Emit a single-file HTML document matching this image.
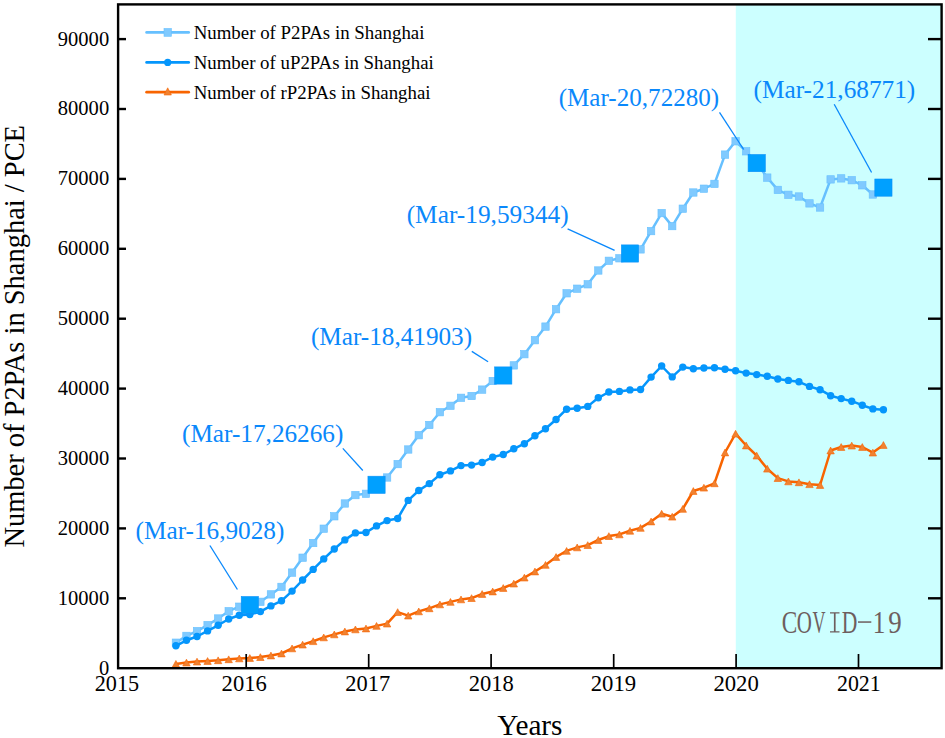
<!DOCTYPE html>
<html><head><meta charset="utf-8"><style>
html,body{margin:0;padding:0;background:#fff;}
body{width:945px;height:738px;overflow:hidden;}
svg{display:block;}
text{font-family:"Liberation Serif",serif;}
</style></head><body>
<svg width="945" height="738" viewBox="0 0 945 738">
<rect x="735.8" y="4.4" width="205.8" height="663.8" fill="#ccffff"/>
<polyline points="175.9,642.7 186.46,635.9 197.02,631.1 207.58,625.1 218.14,618.5 228.7,611.2 239.26,606.7 249.82,605.1 260.38,601.8 270.94,594.4 281.5,586.9 292.06,572.6 302.62,557.7 313.18,543 323.74,528.7 334.3,516.3 344.86,503.5 355.42,495.1 365.98,493.8 376.54,484.8 387.1,477.5 397.66,464.1 408.22,449.5 418.78,435.2 429.34,425 439.9,412.2 450.46,405.8 461.02,397.8 471.58,396 482.14,389.6 492.7,381 503.26,375.5 513.82,365.4 524.38,354.2 534.94,340.2 545.5,326.6 556.06,309.2 566.62,293.3 577.18,288.7 587.74,284.3 598.3,270.5 608.86,260.8 619.42,258.3 629.98,253.5 640.54,249.4 651.1,231.1 661.66,213.1 672.22,226.1 682.78,208.7 693.34,192.5 703.9,188.7 714.46,183.9 725.02,154.6 735.58,141.3 746.14,151.3 756.7,163.1 767.26,177.6 777.82,189.9 788.38,194.8 798.94,196.5 809.5,203.4 820.06,207.5 830.62,179.4 841.18,178.4 851.74,180.2 862.3,185.3 872.86,194.5 883.42,187.6" fill="none" stroke="#66c0ff" stroke-width="2.5" stroke-linejoin="round"/>
<g fill="#80caff" stroke="#66c0ff" stroke-width="0.6"><rect x="172.2" y="639" width="7.4" height="7.4"/><rect x="182.76" y="632.2" width="7.4" height="7.4"/><rect x="193.32" y="627.4" width="7.4" height="7.4"/><rect x="203.88" y="621.4" width="7.4" height="7.4"/><rect x="214.44" y="614.8" width="7.4" height="7.4"/><rect x="225" y="607.5" width="7.4" height="7.4"/><rect x="235.56" y="603" width="7.4" height="7.4"/><rect x="246.12" y="601.4" width="7.4" height="7.4"/><rect x="256.68" y="598.1" width="7.4" height="7.4"/><rect x="267.24" y="590.7" width="7.4" height="7.4"/><rect x="277.8" y="583.2" width="7.4" height="7.4"/><rect x="288.36" y="568.9" width="7.4" height="7.4"/><rect x="298.92" y="554" width="7.4" height="7.4"/><rect x="309.48" y="539.3" width="7.4" height="7.4"/><rect x="320.04" y="525" width="7.4" height="7.4"/><rect x="330.6" y="512.6" width="7.4" height="7.4"/><rect x="341.16" y="499.8" width="7.4" height="7.4"/><rect x="351.72" y="491.4" width="7.4" height="7.4"/><rect x="362.28" y="490.1" width="7.4" height="7.4"/><rect x="372.84" y="481.1" width="7.4" height="7.4"/><rect x="383.4" y="473.8" width="7.4" height="7.4"/><rect x="393.96" y="460.4" width="7.4" height="7.4"/><rect x="404.52" y="445.8" width="7.4" height="7.4"/><rect x="415.08" y="431.5" width="7.4" height="7.4"/><rect x="425.64" y="421.3" width="7.4" height="7.4"/><rect x="436.2" y="408.5" width="7.4" height="7.4"/><rect x="446.76" y="402.1" width="7.4" height="7.4"/><rect x="457.32" y="394.1" width="7.4" height="7.4"/><rect x="467.88" y="392.3" width="7.4" height="7.4"/><rect x="478.44" y="385.9" width="7.4" height="7.4"/><rect x="489" y="377.3" width="7.4" height="7.4"/><rect x="499.56" y="371.8" width="7.4" height="7.4"/><rect x="510.12" y="361.7" width="7.4" height="7.4"/><rect x="520.68" y="350.5" width="7.4" height="7.4"/><rect x="531.24" y="336.5" width="7.4" height="7.4"/><rect x="541.8" y="322.9" width="7.4" height="7.4"/><rect x="552.36" y="305.5" width="7.4" height="7.4"/><rect x="562.92" y="289.6" width="7.4" height="7.4"/><rect x="573.48" y="285" width="7.4" height="7.4"/><rect x="584.04" y="280.6" width="7.4" height="7.4"/><rect x="594.6" y="266.8" width="7.4" height="7.4"/><rect x="605.16" y="257.1" width="7.4" height="7.4"/><rect x="615.72" y="254.6" width="7.4" height="7.4"/><rect x="626.28" y="249.8" width="7.4" height="7.4"/><rect x="636.84" y="245.7" width="7.4" height="7.4"/><rect x="647.4" y="227.4" width="7.4" height="7.4"/><rect x="657.96" y="209.4" width="7.4" height="7.4"/><rect x="668.52" y="222.4" width="7.4" height="7.4"/><rect x="679.08" y="205" width="7.4" height="7.4"/><rect x="689.64" y="188.8" width="7.4" height="7.4"/><rect x="700.2" y="185" width="7.4" height="7.4"/><rect x="710.76" y="180.2" width="7.4" height="7.4"/><rect x="721.32" y="150.9" width="7.4" height="7.4"/><rect x="731.88" y="137.6" width="7.4" height="7.4"/><rect x="742.44" y="147.6" width="7.4" height="7.4"/><rect x="753" y="159.4" width="7.4" height="7.4"/><rect x="763.56" y="173.9" width="7.4" height="7.4"/><rect x="774.12" y="186.2" width="7.4" height="7.4"/><rect x="784.68" y="191.1" width="7.4" height="7.4"/><rect x="795.24" y="192.8" width="7.4" height="7.4"/><rect x="805.8" y="199.7" width="7.4" height="7.4"/><rect x="816.36" y="203.8" width="7.4" height="7.4"/><rect x="826.92" y="175.7" width="7.4" height="7.4"/><rect x="837.48" y="174.7" width="7.4" height="7.4"/><rect x="848.04" y="176.5" width="7.4" height="7.4"/><rect x="858.6" y="181.6" width="7.4" height="7.4"/><rect x="869.16" y="190.8" width="7.4" height="7.4"/><rect x="879.72" y="183.9" width="7.4" height="7.4"/></g>
<polyline points="175.9,645.8 186.46,640.3 197.02,636.5 207.58,630.9 218.14,625.3 228.7,619 239.26,615.2 249.82,614.5 260.38,611.6 270.94,605.9 281.5,600.8 292.06,591.1 302.62,580 313.18,569.4 323.74,558.9 334.3,549 344.86,539.9 355.42,532.9 365.98,532.5 376.54,525.9 387.1,520.6 397.66,518.5 408.22,500.4 418.78,490.5 429.34,483.6 439.9,474.7 450.46,470.9 461.02,465.6 471.58,465.1 482.14,462.5 492.7,457.1 503.26,454.5 513.82,448.8 524.38,443.7 534.94,435.7 545.5,428.8 556.06,419.5 566.62,409.2 577.18,408.3 587.74,406.4 598.3,397.8 608.86,392 619.42,391.4 629.98,389.9 640.54,389.5 651.1,377.1 661.66,366 672.22,376.9 682.78,367.1 693.34,368.7 703.9,368 714.46,367.8 725.02,369.3 735.58,370.8 746.14,373.1 756.7,374.6 767.26,376.3 777.82,379 788.38,380.4 798.94,381.8 809.5,386.4 820.06,389.7 830.62,395.7 841.18,398.6 851.74,401.2 862.3,405.2 872.86,408.9 883.42,409.8" fill="none" stroke="#0596fc" stroke-width="2.5" stroke-linejoin="round"/>
<g fill="#0596fc"><circle cx="175.9" cy="645.8" r="3.7"/><circle cx="186.46" cy="640.3" r="3.7"/><circle cx="197.02" cy="636.5" r="3.7"/><circle cx="207.58" cy="630.9" r="3.7"/><circle cx="218.14" cy="625.3" r="3.7"/><circle cx="228.7" cy="619" r="3.7"/><circle cx="239.26" cy="615.2" r="3.7"/><circle cx="249.82" cy="614.5" r="3.7"/><circle cx="260.38" cy="611.6" r="3.7"/><circle cx="270.94" cy="605.9" r="3.7"/><circle cx="281.5" cy="600.8" r="3.7"/><circle cx="292.06" cy="591.1" r="3.7"/><circle cx="302.62" cy="580" r="3.7"/><circle cx="313.18" cy="569.4" r="3.7"/><circle cx="323.74" cy="558.9" r="3.7"/><circle cx="334.3" cy="549" r="3.7"/><circle cx="344.86" cy="539.9" r="3.7"/><circle cx="355.42" cy="532.9" r="3.7"/><circle cx="365.98" cy="532.5" r="3.7"/><circle cx="376.54" cy="525.9" r="3.7"/><circle cx="387.1" cy="520.6" r="3.7"/><circle cx="397.66" cy="518.5" r="3.7"/><circle cx="408.22" cy="500.4" r="3.7"/><circle cx="418.78" cy="490.5" r="3.7"/><circle cx="429.34" cy="483.6" r="3.7"/><circle cx="439.9" cy="474.7" r="3.7"/><circle cx="450.46" cy="470.9" r="3.7"/><circle cx="461.02" cy="465.6" r="3.7"/><circle cx="471.58" cy="465.1" r="3.7"/><circle cx="482.14" cy="462.5" r="3.7"/><circle cx="492.7" cy="457.1" r="3.7"/><circle cx="503.26" cy="454.5" r="3.7"/><circle cx="513.82" cy="448.8" r="3.7"/><circle cx="524.38" cy="443.7" r="3.7"/><circle cx="534.94" cy="435.7" r="3.7"/><circle cx="545.5" cy="428.8" r="3.7"/><circle cx="556.06" cy="419.5" r="3.7"/><circle cx="566.62" cy="409.2" r="3.7"/><circle cx="577.18" cy="408.3" r="3.7"/><circle cx="587.74" cy="406.4" r="3.7"/><circle cx="598.3" cy="397.8" r="3.7"/><circle cx="608.86" cy="392" r="3.7"/><circle cx="619.42" cy="391.4" r="3.7"/><circle cx="629.98" cy="389.9" r="3.7"/><circle cx="640.54" cy="389.5" r="3.7"/><circle cx="651.1" cy="377.1" r="3.7"/><circle cx="661.66" cy="366" r="3.7"/><circle cx="672.22" cy="376.9" r="3.7"/><circle cx="682.78" cy="367.1" r="3.7"/><circle cx="693.34" cy="368.7" r="3.7"/><circle cx="703.9" cy="368" r="3.7"/><circle cx="714.46" cy="367.8" r="3.7"/><circle cx="725.02" cy="369.3" r="3.7"/><circle cx="735.58" cy="370.8" r="3.7"/><circle cx="746.14" cy="373.1" r="3.7"/><circle cx="756.7" cy="374.6" r="3.7"/><circle cx="767.26" cy="376.3" r="3.7"/><circle cx="777.82" cy="379" r="3.7"/><circle cx="788.38" cy="380.4" r="3.7"/><circle cx="798.94" cy="381.8" r="3.7"/><circle cx="809.5" cy="386.4" r="3.7"/><circle cx="820.06" cy="389.7" r="3.7"/><circle cx="830.62" cy="395.7" r="3.7"/><circle cx="841.18" cy="398.6" r="3.7"/><circle cx="851.74" cy="401.2" r="3.7"/><circle cx="862.3" cy="405.2" r="3.7"/><circle cx="872.86" cy="408.9" r="3.7"/><circle cx="883.42" cy="409.8" r="3.7"/></g>
<polyline points="175.9,663.9 186.46,662.6 197.02,661.6 207.58,661 218.14,660.3 228.7,659.3 239.26,658.4 249.82,658 260.38,657.1 270.94,655.5 281.5,653.5 292.06,648.4 302.62,644.6 313.18,641.2 323.74,637.4 334.3,634.4 344.86,631.5 355.42,629.4 365.98,628.5 376.54,625.9 387.1,623.6 397.66,612.1 408.22,615.6 418.78,611.4 429.34,608.3 439.9,604.4 450.46,601.9 461.02,599.4 471.58,598.1 482.14,594 492.7,591.5 503.26,588 513.82,583.6 524.38,577.6 534.94,571.5 545.5,564.9 556.06,557 566.62,550.9 577.18,547.4 587.74,545.1 598.3,540 608.86,536.1 619.42,534.4 629.98,530.8 640.54,527.9 651.1,521.5 661.66,513.7 672.22,516.7 682.78,508.9 693.34,491 703.9,487.7 714.46,483.3 725.02,452.5 735.58,433.7 746.14,445.5 756.7,455.6 767.26,468.7 777.82,478.1 788.38,481.4 798.94,482.3 809.5,484.2 820.06,485 830.62,450.5 841.18,447 851.74,445.6 862.3,447 872.86,452.6 883.42,445" fill="none" stroke="#f86400" stroke-width="2.5" stroke-linejoin="round"/>
<g fill="#f08232" stroke="#f86400" stroke-width="0.6"><path d="M175.9,660.5L179.6,667.3L172.2,667.3Z"/><path d="M186.46,659.2L190.16,666L182.76,666Z"/><path d="M197.02,658.2L200.72,665L193.32,665Z"/><path d="M207.58,657.6L211.28,664.4L203.88,664.4Z"/><path d="M218.14,656.9L221.84,663.7L214.44,663.7Z"/><path d="M228.7,655.9L232.4,662.7L225,662.7Z"/><path d="M239.26,655L242.96,661.8L235.56,661.8Z"/><path d="M249.82,654.6L253.52,661.4L246.12,661.4Z"/><path d="M260.38,653.7L264.08,660.5L256.68,660.5Z"/><path d="M270.94,652.1L274.64,658.9L267.24,658.9Z"/><path d="M281.5,650.1L285.2,656.9L277.8,656.9Z"/><path d="M292.06,645L295.76,651.8L288.36,651.8Z"/><path d="M302.62,641.2L306.32,648L298.92,648Z"/><path d="M313.18,637.8L316.88,644.6L309.48,644.6Z"/><path d="M323.74,634L327.44,640.8L320.04,640.8Z"/><path d="M334.3,631L338,637.8L330.6,637.8Z"/><path d="M344.86,628.1L348.56,634.9L341.16,634.9Z"/><path d="M355.42,626L359.12,632.8L351.72,632.8Z"/><path d="M365.98,625.1L369.68,631.9L362.28,631.9Z"/><path d="M376.54,622.5L380.24,629.3L372.84,629.3Z"/><path d="M387.1,620.2L390.8,627L383.4,627Z"/><path d="M397.66,608.7L401.36,615.5L393.96,615.5Z"/><path d="M408.22,612.2L411.92,619L404.52,619Z"/><path d="M418.78,608L422.48,614.8L415.08,614.8Z"/><path d="M429.34,604.9L433.04,611.7L425.64,611.7Z"/><path d="M439.9,601L443.6,607.8L436.2,607.8Z"/><path d="M450.46,598.5L454.16,605.3L446.76,605.3Z"/><path d="M461.02,596L464.72,602.8L457.32,602.8Z"/><path d="M471.58,594.7L475.28,601.5L467.88,601.5Z"/><path d="M482.14,590.6L485.84,597.4L478.44,597.4Z"/><path d="M492.7,588.1L496.4,594.9L489,594.9Z"/><path d="M503.26,584.6L506.96,591.4L499.56,591.4Z"/><path d="M513.82,580.2L517.52,587L510.12,587Z"/><path d="M524.38,574.2L528.08,581L520.68,581Z"/><path d="M534.94,568.1L538.64,574.9L531.24,574.9Z"/><path d="M545.5,561.5L549.2,568.3L541.8,568.3Z"/><path d="M556.06,553.6L559.76,560.4L552.36,560.4Z"/><path d="M566.62,547.5L570.32,554.3L562.92,554.3Z"/><path d="M577.18,544L580.88,550.8L573.48,550.8Z"/><path d="M587.74,541.7L591.44,548.5L584.04,548.5Z"/><path d="M598.3,536.6L602,543.4L594.6,543.4Z"/><path d="M608.86,532.7L612.56,539.5L605.16,539.5Z"/><path d="M619.42,531L623.12,537.8L615.72,537.8Z"/><path d="M629.98,527.4L633.68,534.2L626.28,534.2Z"/><path d="M640.54,524.5L644.24,531.3L636.84,531.3Z"/><path d="M651.1,518.1L654.8,524.9L647.4,524.9Z"/><path d="M661.66,510.3L665.36,517.1L657.96,517.1Z"/><path d="M672.22,513.3L675.92,520.1L668.52,520.1Z"/><path d="M682.78,505.5L686.48,512.3L679.08,512.3Z"/><path d="M693.34,487.6L697.04,494.4L689.64,494.4Z"/><path d="M703.9,484.3L707.6,491.1L700.2,491.1Z"/><path d="M714.46,479.9L718.16,486.7L710.76,486.7Z"/><path d="M725.02,449.1L728.72,455.9L721.32,455.9Z"/><path d="M735.58,430.3L739.28,437.1L731.88,437.1Z"/><path d="M746.14,442.1L749.84,448.9L742.44,448.9Z"/><path d="M756.7,452.2L760.4,459L753,459Z"/><path d="M767.26,465.3L770.96,472.1L763.56,472.1Z"/><path d="M777.82,474.7L781.52,481.5L774.12,481.5Z"/><path d="M788.38,478L792.08,484.8L784.68,484.8Z"/><path d="M798.94,478.9L802.64,485.7L795.24,485.7Z"/><path d="M809.5,480.8L813.2,487.6L805.8,487.6Z"/><path d="M820.06,481.6L823.76,488.4L816.36,488.4Z"/><path d="M830.62,447.1L834.32,453.9L826.92,453.9Z"/><path d="M841.18,443.6L844.88,450.4L837.48,450.4Z"/><path d="M851.74,442.2L855.44,449L848.04,449Z"/><path d="M862.3,443.6L866,450.4L858.6,450.4Z"/><path d="M872.86,449.2L876.56,456L869.16,456Z"/><path d="M883.42,441.6L887.12,448.4L879.72,448.4Z"/></g>
<rect x="241.22" y="596.5" width="17.2" height="17.2" fill="#00a0ff" stroke="#0a90f8" stroke-width="0.6"/>
<rect x="367.94" y="476.2" width="17.2" height="17.2" fill="#00a0ff" stroke="#0a90f8" stroke-width="0.6"/>
<rect x="494.66" y="366.9" width="17.2" height="17.2" fill="#00a0ff" stroke="#0a90f8" stroke-width="0.6"/>
<rect x="621.38" y="244.9" width="17.2" height="17.2" fill="#00a0ff" stroke="#0a90f8" stroke-width="0.6"/>
<rect x="748.1" y="154.5" width="17.2" height="17.2" fill="#00a0ff" stroke="#0a90f8" stroke-width="0.6"/>
<rect x="874.82" y="179" width="17.2" height="17.2" fill="#00a0ff" stroke="#0a90f8" stroke-width="0.6"/>
<line x1="209.9" y1="545.5" x2="237.4" y2="589.5" stroke="#0a88fb" stroke-width="1.3"/>
<line x1="342.8" y1="448.4" x2="362.8" y2="470.5" stroke="#0a88fb" stroke-width="1.3"/>
<line x1="471.8" y1="351.4" x2="488.1" y2="361.7" stroke="#0a88fb" stroke-width="1.3"/>
<line x1="567.6" y1="228.9" x2="614.6" y2="250.4" stroke="#0a88fb" stroke-width="1.3"/>
<line x1="719.5" y1="112.3" x2="743.7" y2="149.5" stroke="#0a88fb" stroke-width="1.3"/>
<line x1="834.2" y1="104.2" x2="871.6" y2="172.5" stroke="#0a88fb" stroke-width="1.3"/>
<text x="135.59" y="539.3" font-size="25.8" textLength="148.81" lengthAdjust="spacingAndGlyphs" fill="#0a88fb" style='font-family:"Liberation Serif",serif'>(Mar-16,9028)</text>
<text x="181.99" y="442.4" font-size="25.8" textLength="161.41" lengthAdjust="spacingAndGlyphs" fill="#0a88fb" style='font-family:"Liberation Serif",serif'>(Mar-17,26266)</text>
<text x="310.9" y="344.9" font-size="25.8" textLength="161.21" lengthAdjust="spacingAndGlyphs" fill="#0a88fb" style='font-family:"Liberation Serif",serif'>(Mar-18,41903)</text>
<text x="406.69" y="222.9" font-size="25.8" textLength="162.02" lengthAdjust="spacingAndGlyphs" fill="#0a88fb" style='font-family:"Liberation Serif",serif'>(Mar-19,59344)</text>
<text x="558.7" y="105.8" font-size="25.8" textLength="160.5" lengthAdjust="spacingAndGlyphs" fill="#0a88fb" style='font-family:"Liberation Serif",serif'>(Mar-20,72280)</text>
<text x="753.59" y="98" font-size="25.8" textLength="161.72" lengthAdjust="spacingAndGlyphs" fill="#0a88fb" style='font-family:"Liberation Serif",serif'>(Mar-21,68771)</text>
<text x="781.84" y="632.6" font-size="31.8" textLength="15.54" lengthAdjust="spacingAndGlyphs" fill="#6e5e5e" style='font-family:"Liberation Serif",serif'>C</text>
<text x="796.74" y="632.6" font-size="31.8" textLength="15.12" lengthAdjust="spacingAndGlyphs" fill="#6e5e5e" style='font-family:"Liberation Serif",serif'>O</text>
<text x="812.6" y="632.6" font-size="31.8" textLength="13" lengthAdjust="spacingAndGlyphs" fill="#6e5e5e" style='font-family:"Liberation Serif",serif'>V</text>
<text x="841.78" y="632.6" font-size="31.8" textLength="15.59" lengthAdjust="spacingAndGlyphs" fill="#6e5e5e" style='font-family:"Liberation Serif",serif'>D</text>
<text x="872.78" y="632.6" font-size="30.8" textLength="12.64" lengthAdjust="spacingAndGlyphs" fill="#6e5e5e" style='font-family:"Liberation Serif",serif'>1</text>
<text x="888.23" y="632.6" font-size="30.8" textLength="13.47" lengthAdjust="spacingAndGlyphs" fill="#6e5e5e" style='font-family:"Liberation Serif",serif'>9</text>
<rect x="858" y="621.3" width="13.3" height="1.5" fill="#6e5e5e"/>
<path d="M830,612.2h9.5v1.3h-3.9v17.8h3.9v1.3h-9.5v-1.3h3.9v-17.8h-3.9z" fill="#6e5e5e"/>
<rect x="118.1" y="4.4" width="823.5" height="663.8" fill="none" stroke="#000" stroke-width="2.4"/>
<line x1="118.1" y1="598.3" x2="126" y2="598.3" stroke="#000" stroke-width="2.4"/>
<line x1="928" y1="598.3" x2="941.6" y2="598.3" stroke="#000" stroke-width="2.4"/>
<line x1="118.1" y1="528.4" x2="126" y2="528.4" stroke="#000" stroke-width="2.4"/>
<line x1="928" y1="528.4" x2="941.6" y2="528.4" stroke="#000" stroke-width="2.4"/>
<line x1="118.1" y1="458.5" x2="126" y2="458.5" stroke="#000" stroke-width="2.4"/>
<line x1="928" y1="458.5" x2="941.6" y2="458.5" stroke="#000" stroke-width="2.4"/>
<line x1="118.1" y1="388.6" x2="126" y2="388.6" stroke="#000" stroke-width="2.4"/>
<line x1="928" y1="388.6" x2="941.6" y2="388.6" stroke="#000" stroke-width="2.4"/>
<line x1="118.1" y1="318.7" x2="126" y2="318.7" stroke="#000" stroke-width="2.4"/>
<line x1="928" y1="318.7" x2="941.6" y2="318.7" stroke="#000" stroke-width="2.4"/>
<line x1="118.1" y1="248.8" x2="126" y2="248.8" stroke="#000" stroke-width="2.4"/>
<line x1="928" y1="248.8" x2="941.6" y2="248.8" stroke="#000" stroke-width="2.4"/>
<line x1="118.1" y1="178.9" x2="126" y2="178.9" stroke="#000" stroke-width="2.4"/>
<line x1="928" y1="178.9" x2="941.6" y2="178.9" stroke="#000" stroke-width="2.4"/>
<line x1="118.1" y1="109" x2="126" y2="109" stroke="#000" stroke-width="2.4"/>
<line x1="928" y1="109" x2="941.6" y2="109" stroke="#000" stroke-width="2.4"/>
<line x1="118.1" y1="39.1" x2="126" y2="39.1" stroke="#000" stroke-width="2.4"/>
<line x1="928" y1="39.1" x2="941.6" y2="39.1" stroke="#000" stroke-width="2.4"/>
<line x1="246.2" y1="654" x2="246.2" y2="668.2" stroke="#000" stroke-width="1.7"/>
<line x1="368.7" y1="654" x2="368.7" y2="668.2" stroke="#000" stroke-width="1.7"/>
<line x1="491.1" y1="654" x2="491.1" y2="668.2" stroke="#000" stroke-width="1.7"/>
<line x1="613.7" y1="654" x2="613.7" y2="668.2" stroke="#000" stroke-width="1.7"/>
<line x1="736.1" y1="654" x2="736.1" y2="668.2" stroke="#000" stroke-width="1.7"/>
<line x1="858.5" y1="654" x2="858.5" y2="668.2" stroke="#000" stroke-width="1.7"/>
<text x="98.91" y="674.6" font-size="21.7" textLength="10.27" lengthAdjust="spacingAndGlyphs" fill="#000" style='font-family:"Liberation Serif",serif'>0</text>
<text x="57.81" y="604.7" font-size="21.7" textLength="51.37" lengthAdjust="spacingAndGlyphs" fill="#000" style='font-family:"Liberation Serif",serif'>10000</text>
<text x="57.81" y="534.8" font-size="21.7" textLength="51.37" lengthAdjust="spacingAndGlyphs" fill="#000" style='font-family:"Liberation Serif",serif'>20000</text>
<text x="57.81" y="464.9" font-size="21.7" textLength="51.37" lengthAdjust="spacingAndGlyphs" fill="#000" style='font-family:"Liberation Serif",serif'>30000</text>
<text x="57.81" y="395" font-size="21.7" textLength="51.37" lengthAdjust="spacingAndGlyphs" fill="#000" style='font-family:"Liberation Serif",serif'>40000</text>
<text x="57.81" y="325.1" font-size="21.7" textLength="51.37" lengthAdjust="spacingAndGlyphs" fill="#000" style='font-family:"Liberation Serif",serif'>50000</text>
<text x="57.81" y="255.2" font-size="21.7" textLength="51.37" lengthAdjust="spacingAndGlyphs" fill="#000" style='font-family:"Liberation Serif",serif'>60000</text>
<text x="57.81" y="185.3" font-size="21.7" textLength="51.37" lengthAdjust="spacingAndGlyphs" fill="#000" style='font-family:"Liberation Serif",serif'>70000</text>
<text x="57.81" y="115.4" font-size="21.7" textLength="51.37" lengthAdjust="spacingAndGlyphs" fill="#000" style='font-family:"Liberation Serif",serif'>80000</text>
<text x="57.81" y="45.5" font-size="21.7" textLength="51.37" lengthAdjust="spacingAndGlyphs" fill="#000" style='font-family:"Liberation Serif",serif'>90000</text>
<text x="94.72" y="691.3" font-size="22.5" textLength="44.44" lengthAdjust="spacingAndGlyphs" fill="#000" style='font-family:"Liberation Serif",serif'>2015</text>
<text x="221.61" y="691.3" font-size="22.5" textLength="45.17" lengthAdjust="spacingAndGlyphs" fill="#000" style='font-family:"Liberation Serif",serif'>2016</text>
<text x="345.31" y="691.3" font-size="22.5" textLength="44.83" lengthAdjust="spacingAndGlyphs" fill="#000" style='font-family:"Liberation Serif",serif'>2017</text>
<text x="468.71" y="691.3" font-size="22.5" textLength="45.15" lengthAdjust="spacingAndGlyphs" fill="#000" style='font-family:"Liberation Serif",serif'>2018</text>
<text x="590.7" y="691.3" font-size="22.5" textLength="45.43" lengthAdjust="spacingAndGlyphs" fill="#000" style='font-family:"Liberation Serif",serif'>2019</text>
<text x="713.4" y="691.3" font-size="22.5" textLength="45.46" lengthAdjust="spacingAndGlyphs" fill="#000" style='font-family:"Liberation Serif",serif'>2020</text>
<text x="836.94" y="691.3" font-size="22.5" textLength="43.78" lengthAdjust="spacingAndGlyphs" fill="#000" style='font-family:"Liberation Serif",serif'>2021</text>
<text x="497.19" y="735.2" font-size="29.2" textLength="65.33" lengthAdjust="spacingAndGlyphs" fill="#000" style='font-family:"Liberation Serif",serif'>Years</text>
<text x="-547.61" y="0" font-size="29.5" textLength="422.62" lengthAdjust="spacingAndGlyphs" fill="#000" style='font-family:"Liberation Serif",serif' transform="translate(23.8,0) rotate(-90)">Number of P2PAs in Shanghai / PCE</text>
<line x1="146.6" y1="32.4" x2="188.7" y2="32.4" stroke="#66c0ff" stroke-width="2.7" stroke-linecap="round"/>
<rect x="164" y="28.5" width="7.4" height="7.8" fill="#80caff" stroke="#66c0ff" stroke-width="0.6"/>
<text x="193.66" y="39" font-size="19.8" textLength="230.8" lengthAdjust="spacingAndGlyphs" fill="#000" style='font-family:"Liberation Serif",serif'>Number of P2PAs in Shanghai</text>
<line x1="146.6" y1="62.4" x2="188.7" y2="62.4" stroke="#0596fc" stroke-width="2.7" stroke-linecap="round"/>
<circle cx="167.7" cy="62.4" r="3.6" fill="#0596fc"/>
<text x="193.66" y="68.75" font-size="19.8" textLength="240.1" lengthAdjust="spacingAndGlyphs" fill="#000" style='font-family:"Liberation Serif",serif'>Number of uP2PAs in Shanghai</text>
<line x1="146.6" y1="92.2" x2="188.7" y2="92.2" stroke="#f86400" stroke-width="2.7" stroke-linecap="round"/>
<path d="M167.7,87.8L171.4,95L164,95Z" fill="#f08232" stroke="#f86400" stroke-width="0.6"/>
<text x="193.66" y="98.5" font-size="19.8" textLength="236.89" lengthAdjust="spacingAndGlyphs" fill="#000" style='font-family:"Liberation Serif",serif'>Number of rP2PAs in Shanghai</text>
</svg></body></html>
